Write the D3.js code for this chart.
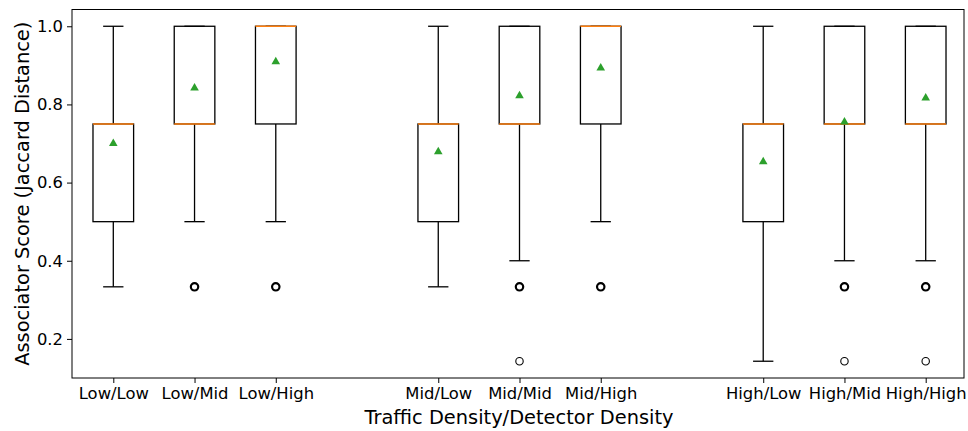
<!DOCTYPE html>
<html>
<head>
<meta charset="utf-8">
<script src="https://cdn.jsdelivr.net/npm/d3@7/dist/d3.min.js"></script>
<style>
  html, body { margin: 0; padding: 0; background: #fff; }
  svg { display: block; font-family: "DejaVu Sans", sans-serif; }
</style>
</head>
<body>
<svg id="chart" width="968" height="431"></svg>
<script>
// Box statistics per traffic/detector density group
const categories = ["Low/Low", "Low/Mid", "Low/High", "Mid/Low", "Mid/Mid", "Mid/High", "High/Low", "High/Mid", "High/High"];
const positions  = [1, 2, 3, 5, 6, 7, 9, 10, 11];
const whiskerLow  = [0.3333, 0.5, 0.5, 0.3333, 0.4, 0.5, 0.1429, 0.4, 0.4];
const q1          = [0.5, 0.75, 0.75, 0.5, 0.75, 0.75, 0.5, 0.75, 0.75];
const medians     = [0.75, 0.75, 1.0, 0.75, 0.75, 1.0, 0.75, 0.75, 0.75];
const q3          = [0.75, 1.0, 1.0, 0.75, 1.0, 1.0, 0.75, 1.0, 1.0];
const whiskerHigh = [1.0, 1.0, 1.0, 1.0, 1.0, 1.0, 1.0, 1.0, 1.0];
const means       = [0.702, 0.844, 0.911, 0.681, 0.824, 0.895, 0.655, 0.757, 0.818];
// Flier values (repeated values overlap and print heavier)
const outliers = [
  [],
  [0.3333, 0.3333, 0.3333],
  [0.3333, 0.3333, 0.3333],
  [],
  [0.3333, 0.3333, 0.3333, 0.1429],
  [0.3333, 0.3333, 0.3333],
  [],
  [0.3333, 0.3333, 0.3333, 0.1429],
  [0.3333, 0.3333, 0.3333, 0.1429]
];
const yTicks = [0.2, 0.4, 0.6, 0.8, 1.0];

const svg = d3.select("#chart");
const frame = { left: 72, right: 964, top: 9.5, bottom: 378 };

const x = d3.scaleLinear().domain([1, 11]).range([113.3, 925.7]);
const y = d3.scaleLinear().domain([0.1, 1.0429]).range([frame.bottom, frame.top]);
const halfBox = (x(1.25) - x(1));
const halfCap = (x(1.125) - x(1));

const g = svg.append("g");

// Boxes, whiskers, medians
categories.forEach((c, i) => {
  const px = x(positions[i]);
  const grp = g.append("g");
  // whiskers
  grp.append("line").attr("x1", px).attr("x2", px)
    .attr("y1", y(q1[i])).attr("y2", y(whiskerLow[i]))
    .attr("stroke", "#000").attr("stroke-width", 1.3);
  grp.append("line").attr("x1", px).attr("x2", px)
    .attr("y1", y(q3[i])).attr("y2", y(whiskerHigh[i]))
    .attr("stroke", "#000").attr("stroke-width", 1.3);
  // caps
  [whiskerLow[i], whiskerHigh[i]].forEach(v => {
    grp.append("line").attr("x1", px - halfCap).attr("x2", px + halfCap)
      .attr("y1", y(v)).attr("y2", y(v))
      .attr("stroke", "#000").attr("stroke-width", 1.3);
  });
  // box
  grp.append("rect")
    .attr("x", px - halfBox).attr("width", 2 * halfBox)
    .attr("y", y(q3[i])).attr("height", Math.max(0, y(q1[i]) - y(q3[i])))
    .attr("fill", "none").attr("stroke", "#000").attr("stroke-width", 1.3);
  // median
  grp.append("line").attr("x1", px - halfBox).attr("x2", px + halfBox)
    .attr("y1", y(medians[i])).attr("y2", y(medians[i]))
    .attr("stroke", "#ff7f0e").attr("stroke-width", 1.6);
  // fliers: stacked duplicates are drawn with a heavier ring
  const counts = d3.rollups(outliers[i], v => v.length, d => d);
  grp.selectAll("circle").data(counts).enter().append("circle")
    .attr("cx", px).attr("cy", d => y(d[0])).attr("r", 3.7)
    .attr("fill", "none").attr("stroke", "#000")
    .attr("stroke-width", d => d[1] > 1 ? 2.2 : 1.1);
  // mean marker
  const my = y(means[i]);
  grp.append("path")
    .attr("d", `M${px},${my - 4.3} L${px + 4.3},${my + 3.2} L${px - 4.3},${my + 3.2} Z`)
    .attr("fill", "#2ca02c");
});

// Frame
svg.append("rect")
  .attr("x", frame.left).attr("y", frame.top)
  .attr("width", frame.right - frame.left).attr("height", frame.bottom - frame.top)
  .attr("fill", "none").attr("stroke", "#000").attr("stroke-width", 1);

// Y axis ticks
const yAxis = d3.axisLeft(y).tickValues(yTicks).tickFormat(d3.format(".1f")).tickSize(5).tickPadding(4);
const ya = svg.append("g").attr("transform", `translate(${frame.left},0)`).call(yAxis);
ya.select(".domain").remove();
ya.selectAll("text").attr("font-size", 16.4).attr("fill", "#000").attr("font-family", "DejaVu Sans");
ya.selectAll("line").attr("stroke", "#000");

// X axis ticks
const xAxis = d3.axisBottom(x).tickValues(positions).tickFormat((d, i) => categories[i]).tickSize(5).tickPadding(4);
const xa = svg.append("g").attr("transform", `translate(0,${frame.bottom})`).call(xAxis);
xa.select(".domain").remove();
xa.selectAll("text").attr("font-size", 16.4).attr("fill", "#000").attr("font-family", "DejaVu Sans");
xa.selectAll("line").attr("stroke", "#000");

// Axis titles
svg.append("text")
  .attr("x", (frame.left + frame.right) / 2 + 1).attr("y", 424)
  .attr("text-anchor", "middle").attr("font-size", 19.4).attr("fill", "#000")
  .text("Traffic Density/Detector Density");
svg.append("text")
  .attr("transform", `translate(29,${(frame.top + frame.bottom) / 2}) rotate(-90)`)
  .attr("text-anchor", "middle").attr("font-size", 19.4).attr("fill", "#000")
  .text("Associator Score (Jaccard Distance)");
</script>
</body>
</html>
